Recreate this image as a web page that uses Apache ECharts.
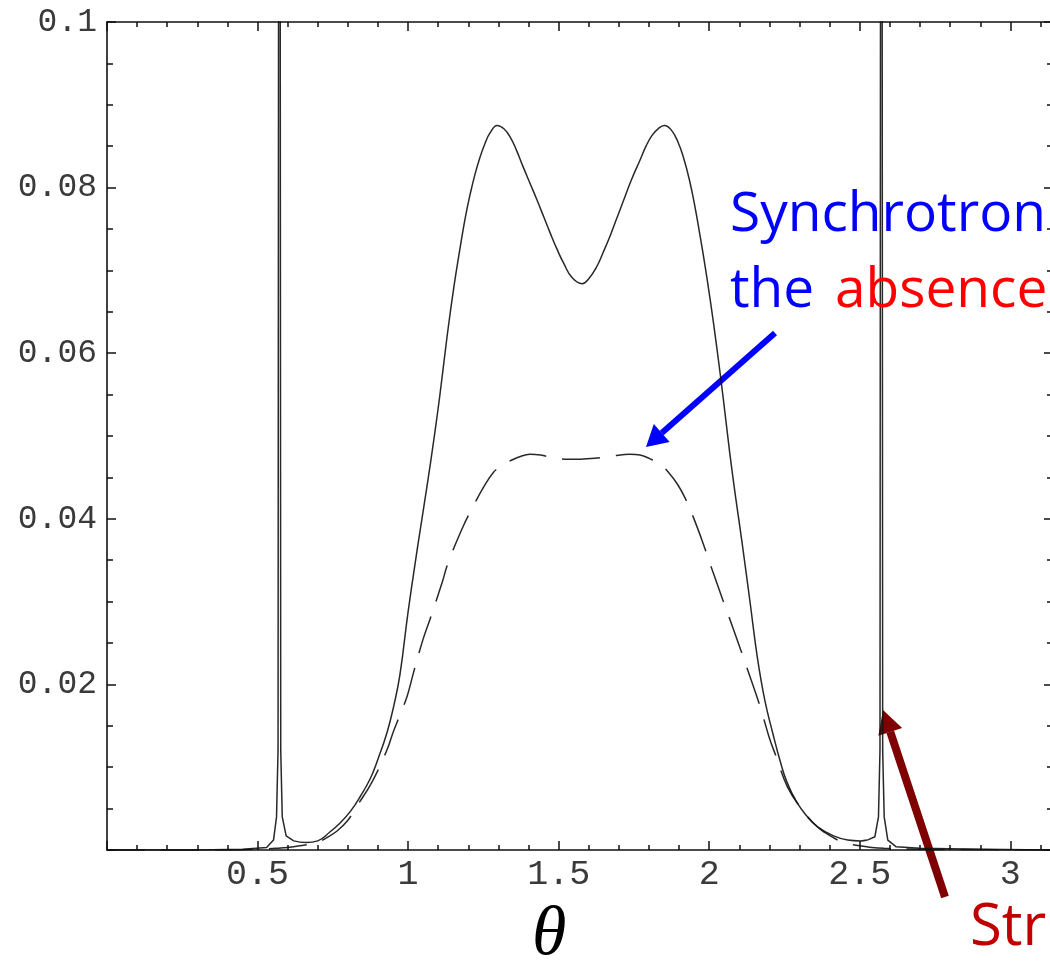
<!DOCTYPE html>
<html>
<head>
<meta charset="utf-8">
<script src="https://cdn.jsdelivr.net/npm/echarts@6/dist/echarts.min.js"></script>
<style>
  html, body { margin: 0; padding: 0; background: #ffffff; }
  #chart { width: 1050px; height: 962px; }
</style>
</head>
<body>
<div id="chart"></div>
<script>
// Angular distribution vs. theta: full curve (solid, with the two sharp
// resonance spikes) and the curve without them (dashed).

// Solid curve, left edge including the spike near theta = 0.57
const solidSpikeLeft = [
  [0, 0], [0.30, 0.0000], [0.45, 0.0001], [0.53, 0.0003], [0.553, 0.0012],
  [0.563, 0.004], [0.568, 0.012], [0.5725, 0.25], [0.577, 0.012],
  [0.582, 0.004], [0.595, 0.0017], [0.62, 0.0011]
];

// Solid curve, main double-humped part
const solidHump = [
  [0.62, 0.0011], [0.66, 0.0009], [0.70, 0.0011], [0.741, 0.0022], [0.775, 0.0033],
  [0.807, 0.0046], [0.84, 0.0064], [0.874, 0.0086], [0.90, 0.0110], [0.93, 0.0142],
  [0.953, 0.0175], [0.973, 0.0212], [1.0, 0.0288], [1.034, 0.0372], [1.063, 0.0440],
  [1.084, 0.0492], [1.105, 0.0548], [1.13, 0.0622], [1.152, 0.0680], [1.173, 0.0728],
  [1.19, 0.0764], [1.206, 0.0792], [1.222, 0.0816], [1.239, 0.0837], [1.255, 0.0853],
  [1.272, 0.0866], [1.296, 0.0875], [1.318, 0.0871], [1.339, 0.0861], [1.36, 0.0845],
  [1.382, 0.0825], [1.405, 0.0805], [1.428, 0.0785], [1.45, 0.0765], [1.472, 0.0745],
  [1.494, 0.0726], [1.516, 0.0709], [1.545, 0.0691], [1.578, 0.0684], [1.600, 0.0690],
  [1.627, 0.0705], [1.648, 0.0722], [1.67, 0.0741], [1.692, 0.0762], [1.715, 0.0784],
  [1.74, 0.0808], [1.771, 0.0834], [1.79, 0.0850], [1.81, 0.0863], [1.83, 0.0871],
  [1.851, 0.0875], [1.873, 0.0870], [1.895, 0.0856], [1.914, 0.0837], [1.935, 0.0808],
  [1.952, 0.0778], [1.968, 0.0745], [1.985, 0.0708], [2.003, 0.0665], [2.025, 0.0607],
  [2.047, 0.0544], [2.068, 0.0480], [2.088, 0.0425], [2.108, 0.0374], [2.136, 0.0298],
  [2.16, 0.0232], [2.185, 0.0180], [2.211, 0.0141], [2.235, 0.0108], [2.258, 0.0082],
  [2.29, 0.0058], [2.324, 0.0041], [2.36, 0.0028], [2.413, 0.0017], [2.46, 0.0012],
  [2.502, 0.0011], [2.525, 0.0012]
];

// Solid curve, right edge including the spike near theta = 2.57
const solidSpikeRight = [
  [2.525, 0.0012], [2.55, 0.0016], [2.562, 0.004], [2.567, 0.012], [2.5715, 0.25],
  [2.576, 0.012], [2.581, 0.004], [2.593, 0.0012], [2.62, 0.0004], [2.70, 0.0002],
  [2.90, 0.0001], [3.1416, 0]
];

// Dashed curve
const dashedCurve = [
  [0, 0], [0.40, 0], [0.50, 0.0001], [0.56, 0.0002], [0.60, 0.0003], [0.64, 0.0005],
  [0.698, 0.0009], [0.73, 0.0015], [0.764, 0.0023], [0.80, 0.0036], [0.83, 0.0053],
  [0.88, 0.0082], [0.93, 0.0121], [0.95, 0.0142], [0.975, 0.0165], [0.997, 0.0186],
  [1.017, 0.0213], [1.05, 0.0255], [1.073, 0.0279], [1.113, 0.0323], [1.133, 0.0347],
  [1.183, 0.0391], [1.216, 0.0415], [1.25, 0.0438], [1.283, 0.0456], [1.31, 0.0464],
  [1.339, 0.0470], [1.37, 0.0475], [1.405, 0.0478], [1.44, 0.0477], [1.48, 0.0474],
  [1.53, 0.0472], [1.571, 0.0472], [1.62, 0.0473], [1.681, 0.0476], [1.736, 0.0478],
  [1.77, 0.0477], [1.80, 0.0473], [1.837, 0.0466], [1.865, 0.0456], [1.894, 0.0442],
  [1.92, 0.0425], [1.947, 0.0402], [1.98, 0.0370], [2.013, 0.0335], [2.05, 0.0297],
  [2.08, 0.0267], [2.13, 0.0215], [2.17, 0.0172], [2.20, 0.0135], [2.22, 0.0115],
  [2.26, 0.0076], [2.31, 0.0048], [2.35, 0.0031], [2.38, 0.0022], [2.44, 0.0010],
  [2.50, 0.0005], [2.54, 0.0003], [2.58, 0.0002], [2.70, 0.0001], [3.1416, 0]
];

// Axis ranges and tick steps
const xRange = [0, Math.PI];
const xMajorStep = 0.5;
const xMinorStep = 0.1;
const yRange = [0, 0.1];
const yMajorStep = 0.02;
const yMinorStep = 0.005;

const INK = '#111111';
const TICK_FONT = '"Liberation Mono", "DejaVu Sans Mono", monospace';

function isMultiple(v, step) {
  const r = v / step;
  return Math.abs(r - Math.round(r)) < 1e-6;
}

function makeXAxis(position, step, tickLen, withLine, withLabels) {
  return {
    type: 'value', position: position, min: xRange[0], max: xRange[1], interval: step,
    axisLine: { show: withLine, onZero: false, lineStyle: { color: INK, width: 1.6 } },
    axisTick: { show: true, inside: true, length: tickLen, lineStyle: { color: INK, width: 1.5 } },
    axisLabel: {
      show: withLabels, margin: 7, color: '#3a3a3a', fontFamily: TICK_FONT, fontSize: 35,
      formatter: function (v) {
        if (v === 0 || !isMultiple(v, xMajorStep)) return '';
        return String(+v.toFixed(1));
      }
    },
    splitLine: { show: false }, minorTick: { show: false }
  };
}

function makeYAxis(position, step, tickLen, withLine, withLabels) {
  return {
    type: 'value', position: position, min: yRange[0], max: yRange[1], interval: step,
    axisLine: { show: withLine, onZero: false, lineStyle: { color: INK, width: 1.6 } },
    axisTick: { show: true, inside: true, length: tickLen, lineStyle: { color: INK, width: 1.5 } },
    axisLabel: {
      show: withLabels, margin: 10, color: '#3a3a3a', fontFamily: TICK_FONT, fontSize: 33,
      formatter: function (v) {
        if (v === 0 || !isMultiple(v, yMajorStep)) return '';
        return String(+v.toFixed(2));
      }
    },
    splitLine: { show: false }, minorTick: { show: false }
  };
}

function lineSeries(data, smooth, dashed) {
  return {
    type: 'line', data: data, xAxisIndex: 0, yAxisIndex: 0,
    showSymbol: false, symbol: 'none', smooth: smooth, clip: true,
    lineStyle: { color: INK, width: 1.5, type: dashed ? [38, 16] : 'solid', opacity: 0.9 },
    emphasis: { disabled: true }, silent: true
  };
}

// Arrow built from a tail point, a tip point and the head size
function arrow(tail, tip, color, width, headLen, headHalf) {
  const dx = tail[0] - tip[0], dy = tail[1] - tip[1];
  const len = Math.sqrt(dx * dx + dy * dy);
  const ux = dx / len, uy = dy / len;
  const bx = tip[0] + ux * headLen, by = tip[1] + uy * headLen;
  const px = -uy, py = ux;
  return {
    type: 'group', z: 10,
    children: [
      { type: 'line', shape: { x1: tail[0], y1: tail[1], x2: bx, y2: by },
        style: { stroke: color, lineWidth: width } },
      { type: 'polygon',
        shape: { points: [[tip[0], tip[1]], [bx + px * headHalf, by + py * headHalf], [bx - px * headHalf, by - py * headHalf]] },
        style: { fill: color } }
    ]
  };
}

function label(text, x, y, size, color, family, italic) {
  return {
    type: 'text', z: 11,
    style: {
      text: text, x: x, y: y, fill: color,
      font: (italic ? 'italic ' : '') + size + 'px ' + family,
      align: 'left', verticalAlign: 'middle'
    }
  };
}

const ANNOT_FONT = '"Open Sans", "Noto Sans", sans-serif';

const chart = echarts.init(document.getElementById('chart'), null, { renderer: 'canvas' });
chart.setOption({
  animation: false,
  backgroundColor: '#ffffff',
  grid: { left: 107, top: 22, width: 946, height: 828, containLabel: false, outerBoundsMode: 'none' },
  xAxis: [
    makeXAxis('bottom', xMinorStep, 5, true, false),
    makeXAxis('bottom', xMajorStep, 9, false, true),
    makeXAxis('top', xMinorStep, 5, true, false),
    makeXAxis('top', xMajorStep, 9, false, false)
  ],
  yAxis: [
    makeYAxis('left', yMinorStep, 6, true, false),
    makeYAxis('left', yMajorStep, 9, false, true),
    makeYAxis('right', yMinorStep, 6, true, false),
    makeYAxis('right', yMajorStep, 9, false, false)
  ],
  series: [
    lineSeries(dashedCurve, 0.4, true),
    lineSeries(solidSpikeLeft, false, false),
    lineSeries(solidHump, 0.45, false),
    lineSeries(solidSpikeRight, false, false)
  ],
  graphic: [
    label('\u03b8', 532, 936, 70, '#000000', '"Liberation Serif", "DejaVu Serif", serif', true),
    label('Synchrotron', 730, 215, 55, '#0000ff', ANNOT_FONT, false),
    label('the ', 730, 291, 55, '#0000ff', ANNOT_FONT, false),
    label('absence', 835, 291, 55, '#ff0000', ANNOT_FONT, false),
    label('Str', 970, 928, 58, '#c00000', ANNOT_FONT, false),
    arrow([775, 333], [646, 447], '#0000ff', 6, 21, 12),
    arrow([945, 897], [883, 710], '#7f0000', 8, 23, 12.5)
  ]
});
</script>
</body>
</html>
